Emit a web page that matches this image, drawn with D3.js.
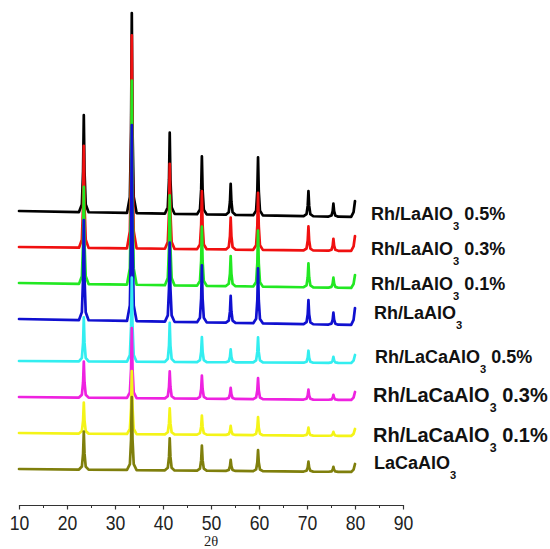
<!DOCTYPE html>
<html>
<head>
<meta charset="utf-8">
<script src="https://cdn.jsdelivr.net/npm/d3@7"></script>
<style>
  body { margin: 0; background: #fff; }
</style>
</head>
<body>
<div class="xrd"></div>
<script>
// 2theta positions of the reflections shared by all patterns
var peakPos = [23.5, 33.5, 41.4, 48.1, 54.1, 59.8, 70.3, 75.5];

// samples, top to bottom
var sampleNames = ["Rh/LaAlO3 0.5%", "Rh/LaAlO3 0.3%", "Rh/LaAlO3 0.1%", "Rh/LaAlO3",
                   "Rh/LaCaAlO3 0.5%", "Rh/LaCaAlO3 0.3%", "Rh/LaCaAlO3 0.1%", "LaCaAlO3"];

// stacked baseline (a.u.) at 2theta = 10 and at 2theta = 80
var baseStart = [294, 258, 222, 186, 144, 108, 72, 36];
var baseEnd   = [288, 254, 217, 180, 142, 105, 69, 33];

// peak heights above baseline (a.u.), one row per sample, same order as peakPos
var peakHeights = [
  [ 97, 200, 81, 58, 31, 58, 25, 13],
  [102, 213, 85, 58, 32, 57, 24, 12],
  [ 97, 204, 90, 59, 30, 56, 24, 10],
  [100, 196, 79, 57, 27, 55, 24, 12],
  [ 44,  84, 39, 25, 13, 25, 12,  6],
  [ 36,  70, 27, 23, 11, 21, 10,  5],
  [ 31,  63, 26, 19,  9, 18,  8,  4],
  [ 38,  73, 32, 25, 11, 21, 10,  5]
];

// rise of the next reflection just starting at 80
var endRise = [16, 15, 13, 17, 8, 8, 7, 8];

var xTicks = [10, 20, 30, 40, 50, 60, 70, 80, 90];
var xMinorTicks = [15, 25, 35, 45, 55, 65, 75, 85];

// styling
var colors = ["#000000", "#f01010", "#22e822", "#1010d0", "#33eef0", "#ee22e0", "#f4f418", "#7f7f0c"];
var labelLayout = [ // dx from x(80), dy from end baseline, font size
  {dx: 16, dy: 3, fs: 18}, {dx: 16, dy: 4, fs: 18}, {dx: 16, dy: 2, fs: 18}, {dx: 19, dy: -6, fs: 18},
  {dx: 20, dy: 0, fs: 18}, {dx: 18, dy: 2, fs: 20}, {dx: 18, dy: 6, fs: 20}, {dx: 19, dy: -3, fs: 18}
];
// shape of a reflection: offset in degrees, share of the peak height
var peakProfile = [[-1.0, 0], [-0.4, 0.08], [-0.15, 0.42], [0, 1], [0.15, 0.42], [0.4, 0.08], [1.0, 0]];

var width = 550, height = 549;
var svg = d3.select(".xrd").append("svg")
    .attr("width", width).attr("height", height);

var x = d3.scaleLinear().domain([10, 90]).range([19, 403]);
var y = d3.scaleLinear().domain([0, 500]).range([505, 5]);

var line = d3.line()
    .x(function(d){ return x(d[0]); })
    .y(function(d){ return y(d[1]); });

var series = sampleNames.map(function(name, i){
  var base = d3.scaleLinear().domain([10, 80]).range([baseStart[i], baseEnd[i]]);
  var pts = [[10, base(10)]];
  peakPos.forEach(function(p, k){
    peakProfile.forEach(function(s){
      pts.push([p + s[0], base(p + s[0]) + s[1] * peakHeights[i][k]]);
    });
  });
  pts.push([79.2, base(79.2)]);
  pts.push([79.7, base(79.7) + endRise[i] * 0.3]);
  pts.push([80, base(80) + endRise[i]]);
  return {name: name, points: pts, color: colors[i], end: baseEnd[i], layout: labelLayout[i]};
});

// top pattern first, so each lower one sits on top of it
svg.append("g").selectAll("path")
  .data(series)
  .enter().append("path")
  .attr("d", function(d){ return line(d.points); })
  .attr("fill", "none")
  .attr("stroke", function(d){ return d.color; })
  .attr("stroke-width", 2.7)
  .attr("stroke-linejoin", "round")
  .attr("stroke-linecap", "round");

// sample labels with subscript 3
var labels = svg.append("g").selectAll("text")
  .data(series)
  .enter().append("text")
  .attr("x", function(d){ return x(80) + d.layout.dx; })
  .attr("y", function(d){ return y(d.end) + d.layout.dy; })
  .style("font-family", "'Liberation Sans', Arial, sans-serif")
  .style("font-weight", "bold")
  .style("font-size", function(d){ return d.layout.fs + "px"; })
  .attr("fill", "#111");
labels.each(function(d){
  var t = d3.select(this);
  var cut = d.name.indexOf("O3");
  t.append("tspan").text(d.name.slice(0, cut + 1));
  t.append("tspan").text("3").attr("dy", 10)
    .style("font-size", (d.layout.fs * 0.62) + "px");
  var rest = d.name.slice(cut + 2);
  if (rest.length) t.append("tspan").text("\u00a0" + rest.trim()).attr("dy", -10);
});

// x axis: minor then major ticks
var minorAxis = svg.append("g").attr("transform", "translate(0,505)")
  .call(d3.axisBottom(x).tickValues(xMinorTicks).tickSize(3).tickSizeOuter(0).tickFormat(""));
minorAxis.select(".domain").remove();
minorAxis.selectAll("line").attr("stroke", "#333");

var xAxis = svg.append("g").attr("transform", "translate(0,505)")
  .call(d3.axisBottom(x).tickValues(xTicks).tickSize(4.5).tickSizeOuter(0).tickFormat(d3.format("d")));
xAxis.select(".domain").attr("stroke", "#333").attr("stroke-width", 1.2);
xAxis.selectAll("line").attr("stroke", "#333").attr("stroke-width", 1.2);
xAxis.selectAll("text")
  .attr("y", 10.5)
  .attr("transform", "scale(0.88,1)")
  .attr("fill", "#222")
  .style("font-family", "'Liberation Sans', Arial, sans-serif")
  .style("font-size", "20px");

svg.append("text")
  .attr("x", x(50)).attr("y", 546)
  .attr("text-anchor", "middle")
  .style("font-family", "'Liberation Serif', 'Times New Roman', serif")
  .style("font-size", "14.5px")
  .attr("fill", "#222")
  .text("2\u03b8");
</script>
</body>
</html>
